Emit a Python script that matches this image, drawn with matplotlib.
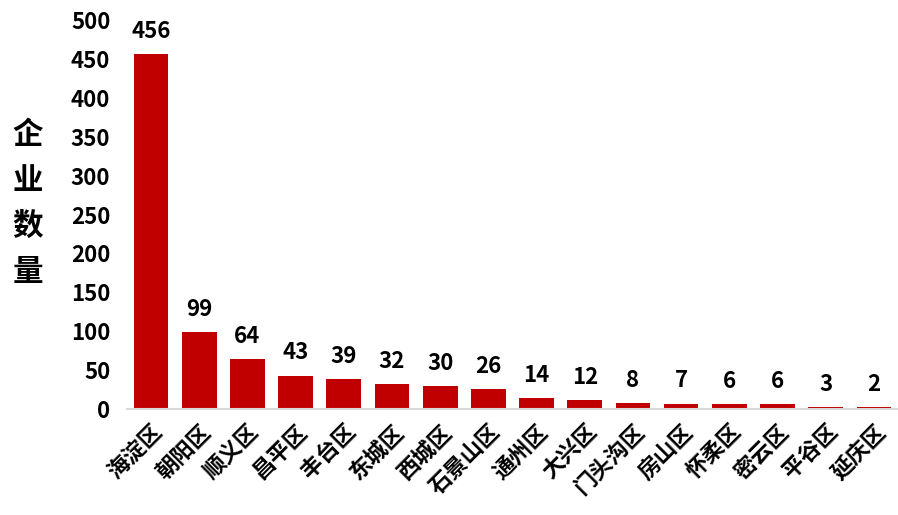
import matplotlib
matplotlib.use('Agg')
import matplotlib.pyplot as plt
import numpy as np

plt.rcParams['font.family'] = ['Noto Sans CJK SC', 'DejaVu Sans']

# 各区企业数量
districts = ['海淀区', '朝阳区', '顺义区', '昌平区', '丰台区', '东城区', '西城区', '石景山区',
             '通州区', '大兴区', '门头沟区', '房山区', '怀柔区', '密云区', '平谷区', '延庆区']
counts = [456, 99, 64, 43, 39, 32, 30, 26, 14, 12, 8, 7, 6, 6, 3, 2]
yticks = [0, 50, 100, 150, 200, 250, 300, 350, 400, 450, 500]

fig = plt.figure(figsize=(8.98, 5.15), dpi=100)
ax = fig.add_axes([0.1414, 0.2058, 0.8586, 0.7553])

x = np.arange(len(districts))
bars = ax.bar(x, counts, width=0.72, color='#C00000')

for xi, v in zip(x, counts):
    ax.annotate(str(v), (xi, v), xytext=(0, 8), textcoords='offset points',
                ha='center', va='bottom', fontsize=16, fontweight='bold', clip_on=False)

ax.set_xlim(-0.5, len(districts) - 0.5)
ax.set_ylim(0, 500)
ax.set_yticks(yticks)
ax.set_yticklabels([str(t) for t in yticks], fontsize=16, fontweight='bold')
ax.set_xticks(x)
ax.set_xticklabels(districts, rotation=45, ha='right', rotation_mode='anchor',
                   fontsize=16, fontweight='bold')
ax.tick_params(axis='both', length=0)
ax.tick_params(axis='y', pad=12)
ax.tick_params(axis='x', pad=8)

for s in ['top', 'right', 'left']:
    ax.spines[s].set_visible(False)
ax.spines['bottom'].set_color('#D9D9D9')
ax.spines['bottom'].set_linewidth(1.5)

fig.text(0.031, 0.605, '企\n业\n数\n量', ha='center', va='center', fontsize=22,
         fontweight='bold', linespacing=1.55)

fig.savefig('out.png', dpi=100)
